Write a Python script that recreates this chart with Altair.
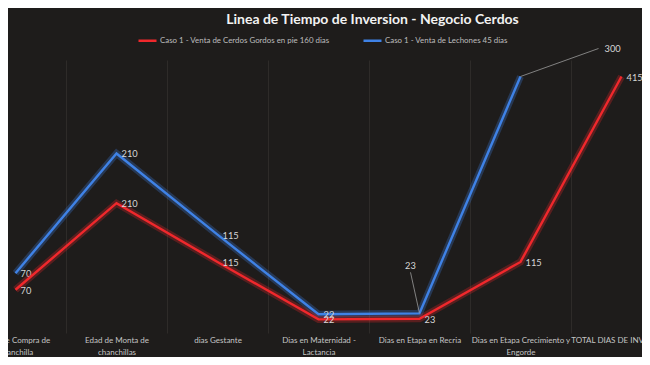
import altair as alt
import pandas as pd

categories = [
    "Edad de Compra de\nchanchilla",
    "Edad de Monta de\nchanchillas",
    "dias Gestante",
    "Dias en Maternidad -\nLactancia",
    "Dias en Etapa en Recria",
    "Dias en Etapa Crecimiento y\nEngorde",
    "TOTAL DIAS DE INVERSION",
]
red_name = "Caso 1 - Venta de Cerdos Gordos en pie 160 dias"
blue_name = "Caso 1 - Venta de Lechones 45 dias"
red_values = [70, 210, 115, 22, 23, 115, 415]
blue_values = [70, 210, 115, 22, 23, 300, None]

RED = "#f0282c"
BLUE = "#3f82e6"
BG = "#1e1c1b"
FONT = "Lato"

rows = []
for i, c in enumerate(categories):
    rows.append({"cat": c, "series": red_name, "value": red_values[i], "idx": i})
    if blue_values[i] is not None:
        rows.append({"cat": c, "series": blue_name, "value": blue_values[i], "idx": i})
df = pd.DataFrame(rows)

x_enc = alt.X(
    "cat:N",
    sort=categories,
    bandPosition=0.5,
    scale=alt.Scale(type="band", range=[-43, 664], paddingInner=0, paddingOuter=0),
    axis=alt.Axis(
        title=None,
        labelAngle=0,
        labelExpr="split(datum.label, '\\n')",
        labelColor="#c4c4c4",
        labelFont=FONT,
        labelFontSize=8,
        labelLineHeight=12.5,
        labelBaseline="top",
        labelPadding=3,
        labelLimit=0,
        domain=False,
        ticks=False,
        grid=True,
        gridColor="#2e2b29",
        gridWidth=1,
        tickBand="extent",
    ),
)

color_enc = alt.Color(
    "series:N",
    scale=alt.Scale(domain=[red_name, blue_name], range=[RED, BLUE]),
    legend=alt.Legend(
        title=None,
        orient="none",
        legendX=129,
        legendY=-30,
        direction="horizontal",
        symbolType="stroke",
        symbolSize=324,
        symbolStrokeWidth=2.5,
        labelColor="#bdbdbd",
        labelFont=FONT,
        labelFontSize=7.9,
        labelOffset=2,
        labelLimit=0,
        columnPadding=28,
        padding=0,
    ),
)

base = alt.Chart(df)


def series_layer(name, color, dmax, label_filter):
    src = base.transform_filter(alt.datum.series == name)
    y_enc = alt.Y("value:Q", scale=alt.Scale(domain=[0, dmax], nice=False, zero=True), axis=None)
    glow = src.mark_line(color=color, strokeWidth=7, opacity=0.28, strokeJoin="miter").encode(
        x=x_enc, y=y_enc, order="idx:Q"
    )
    line = src.mark_line(strokeWidth=2.4, strokeJoin="miter").encode(
        x=x_enc, y=y_enc, color=color_enc, order="idx:Q"
    )
    labels = src.transform_filter(label_filter).mark_text(
        align="left", baseline="middle", dx=5, dy=1, font=FONT, fontSize=9.3, color="#d6d6d6"
    ).encode(x=x_enc, y=y_enc, text="value:Q")
    return [glow, line, labels], src, y_enc


red_layers, red_src, red_y = series_layer(red_name, RED, 441.7, alt.datum.idx >= 0)
blue_layers, blue_src, blue_y = series_layer(blue_name, BLUE, 319.3, alt.datum.idx <= 3)

# blue label at Recria with leader line
b4 = blue_src.transform_filter(alt.datum.idx == 4)
b4_rule = b4.mark_rule(color="#9a9a9a", strokeWidth=0.8, x2Offset=-9, y2Offset=-41).encode(
    x=x_enc, y=blue_y, x2="cat:N", y2="value:Q"
)
b4_text = b4.mark_text(
    align="center", baseline="middle", dx=-9, dy=-47, font=FONT, fontSize=9.3, color="#d6d6d6"
).encode(x=x_enc, y=blue_y, text="value:Q")

# blue label at Crecimiento with leader line
b5 = blue_src.transform_filter(alt.datum.idx == 5)
b5_rule = b5.mark_rule(color="#9a9a9a", strokeWidth=0.8, x2Offset=78, y2Offset=-28).encode(
    x=x_enc, y=blue_y, x2="cat:N", y2="value:Q"
)
b5_text = b5.mark_text(
    align="left", baseline="middle", dx=84, dy=-28, font=FONT, fontSize=9.3, color="#d6d6d6"
).encode(x=x_enc, y=blue_y, text="value:Q")

red_group = alt.layer(*red_layers)
blue_group = alt.layer(*blue_layers, b4_rule, b4_text, b5_rule, b5_text)

chart = (
    alt.layer(blue_group, red_group)
    .resolve_scale(y="independent")
    .properties(
        width=634,
        height=273,
        autosize=alt.AutoSizeParams(type="none"),
        padding={"left": 0, "top": 52, "right": 0, "bottom": 24},
        background=BG,
        title=alt.TitleParams(
            "Linea de Tiempo de Inversion - Negocio Cerdos",
            font=FONT,
            fontSize=14,
            fontWeight="bold",
            color="#f2f2f2",
            anchor="start",
            dx=245,
            offset=3,
        ),
    )
    .configure_view(stroke=None)
)

chart.save("out.html", embed_options={"renderer": "svg", "actions": False})
